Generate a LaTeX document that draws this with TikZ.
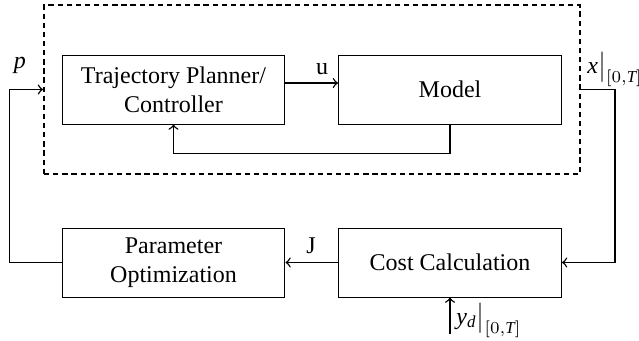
\documentclass[tikz,border=0pt]{standalone}
\usepackage{amsmath}
\usepackage{fontspec}
\setmainfont{Liberation Serif}[Ligatures=TeX]

\begin{document}
\begin{tikzpicture}[x=0.4167pt,y=-0.4167pt,
		block/.style={draw,thin,minimum width=92.9pt,minimum height=28.75pt,align=center,inner sep=2pt,font=\rmfamily},
		link/.style={semithick,->}]
	\useasboundingbox (0,0) rectangle (639,341);
	
	% Dashed system box
	\node[draw,thick,dash pattern=on 2.2pt off 1.6pt,minimum width=223.3pt,minimum height=70.4pt] (sys) at (312,89.5) {};
	
	% Blocks
	\node[block] (tp) at (173.5,89.5) {Trajectory Planner/\\Controller};
	\node[block] (model) at (450,89.5) {Model};
	\node[block] (param) at (173.5,262.5) {Parameter\\Optimization};
	\node[block] (cost) at (450,262.5) {Cost Calculation};
	
	% Labels
	\node (plabel) at (20,65) {$\mathit{p}$};
	\node (ulabel) at (322,69) {u};
	\node[anchor=west,inner sep=0pt] (xlabel) at (587,70) {$\mathit{x}\big|_{[0,\mathit{T}]}$};
	\node (jlabel) at (311,246) {J};
	\node[anchor=west,inner sep=0pt] (ydlabel) at (456,321) {$\mathit{y}_{\mathit{d}}\big|_{[0,\mathit{T}]}$};
	\coordinate (ydin) at (450,334);
	
	% Connections
	\draw[link] ([yshift=2.7pt]tp.east) -- ([yshift=2.7pt]model.west); % u
	\draw[link] (model.south) -- ++(0,29) -| (tp.south); % feedback
	\draw[link] (sys.east) -- ++(34,0) |- (cost.east); % x out
	\draw[link] (cost.west) -- (param.east); % J
	\draw[link] (param.west) -- ++(-52,0) |- (sys.west); % p in
	\draw[link] (ydin) -- (cost.south); % reference
\end{tikzpicture}
\end{document}
